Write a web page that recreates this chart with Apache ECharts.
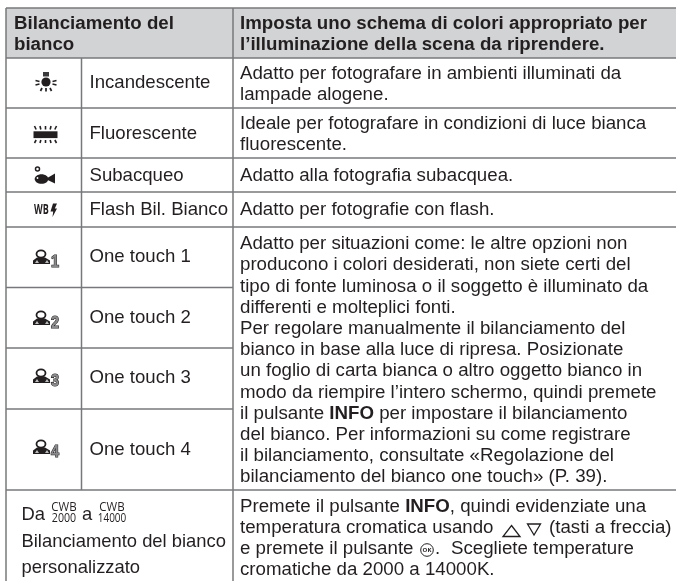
<!DOCTYPE html>
<html>
<head>
<meta charset="utf-8">
<title>Bilanciamento del bianco</title>
<style>
  html, body { margin: 0; padding: 0; background: #fff; }
  #main { width: 676px; height: 581px; }
</style>
<script src="https://cdn.jsdelivr.net/npm/echarts@6/dist/echarts.min.js"></script>
</head>
<body>
<div id="main"></div>
<script>
// table content
const headerLeft = ["Bilanciamento del", "bianco"];
const headerRight = [
  "Imposta uno schema di colori appropriato per",
  "l’illuminazione della scena da riprendere."
];
const modeNames = [
  "Incandescente", "Fluorescente", "Subacqueo", "Flash Bil. Bianco",
  "One touch 1", "One touch 2", "One touch 3", "One touch 4"
];
const descIncandescent = [
  "Adatto per fotografare in ambienti illuminati da",
  "lampade alogene."
];
const descFluorescent = [
  "Ideale per fotografare in condizioni di luce bianca",
  "fluorescente."
];
const descUnderwater = ["Adatto alla fotografia subacquea."];
const descFlash = ["Adatto per fotografie con flash."];
const descOneTouch = [
  "Adatto per situazioni come: le altre opzioni non",
  "producono i colori desiderati, non siete certi del",
  "tipo di fonte luminosa o il soggetto è illuminato da",
  "differenti e molteplici fonti.",
  "Per regolare manualmente il bilanciamento del",
  "bianco in base alla luce di ripresa. Posizionate",
  "un foglio di carta bianca o altro oggetto bianco in",
  "modo da riempire l’intero schermo, quindi premete",
  "il pulsante **INFO** per impostare il bilanciamento",
  "del bianco. Per informazioni su come registrare",
  "il bilanciamento, consultate «Regolazione del",
  "bilanciamento del bianco one touch» (P. 39)."
];
const customLeft = ["Bilanciamento del bianco", "personalizzato"];
const cwbTemps = ["2000", "14000"];

// layout
const INK = "#231f20";
const LINE = "#77787b";
const FONT = "Liberation Sans";
const SIZE = 18.7;
const X0 = 6, X1 = 81.5, X2 = 233, XR = 676;
const Y = [8, 58, 108, 158, 192, 227, 287.5, 348, 409, 490, 581];

const g = [];

const rect = (x, y, w, h, fill) => g.push({ type: "rect", shape: { x, y, width: w, height: h }, style: { fill } });
const hline = (x1, x2, y, w = 1.5) => g.push({ type: "line", shape: { x1, y1: y, x2, y2: y }, style: { stroke: LINE, lineWidth: w } });
const vline = (x, y1, y2, w = 1.5) => g.push({ type: "line", shape: { x1: x, y1, x2: x, y2 }, style: { stroke: LINE, lineWidth: w } });
const poly = (points, fill) => g.push({ type: "polygon", shape: { points }, style: { fill } });
const stroke = (x1, y1, x2, y2, w) => g.push({ type: "line", shape: { x1, y1, x2, y2 }, style: { stroke: INK, lineWidth: w } });
const disc = (cx, cy, r, fill, line, w) => g.push({ type: "circle", shape: { cx, cy, r }, style: { fill, stroke: line, lineWidth: w || 0 } });

// one line of text, **x** turns into a bold run
const text = (str, x, y, opts = {}) => {
  const size = opts.size || SIZE;
  g.push({
    type: "text",
    x, y,
    scaleX: opts.scaleX || 1,
    style: {
      text: str.replace(/\*\*(.+?)\*\*/g, "{b|$1}"),
      fill: INK,
      font: (opts.bold ? "bold " : "") + size + "px '" + (opts.family || FONT) + "'",
      verticalAlign: "middle",
      align: opts.align || "left",
      rich: { b: { font: "bold " + size + "px '" + FONT + "'", fill: INK } }
    }
  });
};

// header band and grid lines
rect(X0, Y[0], XR - X0, Y[1] - Y[0], "#d1d3d4");
[Y[0], Y[1], Y[2], Y[3], Y[4], Y[5], Y[9]].forEach((y) => hline(X0, XR, y));
[Y[6], Y[7], Y[8]].forEach((y) => hline(X0, X2, y));
vline(X0, Y[0], Y[10]);
vline(X1, Y[1], Y[9]);
vline(X2, Y[0], Y[10]);

// header
headerLeft.forEach((s, i) => text(s, 14, 23.5 + i * 21, { bold: true }));
headerRight.forEach((s, i) => text(s, 240, 23.5 + i * 21, { bold: true }));

// mode names
const nameY = [83, 133.5, 175.5, 210, 257, 318, 378, 450];
modeNames.forEach((s, i) => text(s, 89.5, nameY[i], { size: 18.6 }));

// descriptions
descIncandescent.forEach((s, i) => text(s, 240, 73.5 + i * 21.2));
descFluorescent.forEach((s, i) => text(s, 240, 123.5 + i * 21.2));
descUnderwater.forEach((s) => text(s, 240, 175.5));
descFlash.forEach((s) => text(s, 240, 210));
descOneTouch.forEach((s, i) => text(s, 240, 244 + i * 21.2));

// last row, left
text("Da", 21.5, 515, { size: 18.4 });
text("a", 82, 515, { size: 18.4 });
const cwb = (x, t) => {
  text("CWB", x, 507.5, { size: 12.5, family: "Open Sans", scaleX: 0.92, align: "center" });
  text(t, x, 518, { size: 12.5, family: "Open Sans", scaleX: t.length > 4 ? 0.8 : 0.85, align: "center" });
};
cwb(64, cwbTemps[0]);
cwb(112, cwbTemps[1]);
customLeft.forEach((s, i) => text(s, 21.5, 541.5 + i * 26.5, { size: 18.4 }));

// last row, right
text("Premete il pulsante **INFO**, quindi evidenziate una", 240, 507);
text("temperatura cromatica usando", 240, 528);
text("(tasti a freccia)", 549, 528);
text("e premete il pulsante", 240, 549);
text(".", 435, 549);
text("Scegliete temperature", 451, 549);
text("cromatiche da 2000 a 14000K.", 240, 570);
g.push({ type: "polygon", shape: { points: [[511.5, 525.5], [520, 536.5], [503, 536.5]] }, style: { fill: "none", stroke: INK, lineWidth: 1.3 } });
g.push({ type: "polygon", shape: { points: [[534, 535], [527.5, 524], [540.5, 524]] }, style: { fill: "none", stroke: INK, lineWidth: 1.3 } });
disc(427, 550, 6.3, "#fff", INK, 1);
text("OK", 427, 550.5, { size: 6, family: "Open Sans", bold: true, align: "center" });

// icons
const lampIcon = (cx, cy) => {
  rect(cx - 3, cy - 10, 6, 4.5, "#3a3a3c");
  disc(cx, cy, 4.6, INK);
  [[-10.5, -1.5, -6.5, -0.5], [-10.5, 3, -6.5, 2], [10.5, -1.5, 6.5, -0.5], [10.5, 3, 6.5, 2],
   [-5.5, 9, -4, 6], [0, 9.5, 0, 6], [5.5, 9, 4, 6]].forEach((r) =>
    stroke(cx + r[0], cy + r[1], cx + r[2], cy + r[3], 1.7));
};
const tubeIcon = (cx, cy) => {
  rect(cx - 12, cy - 3.2, 24, 6.8, INK);
  [-11, -5.5, 0, 5.5, 11].forEach((dx) => {
    stroke(cx + dx, cy - 8.5, cx + dx * 0.85, cy - 5, 1.6);
    stroke(cx + dx * 0.85, cy + 5.5, cx + dx, cy + 8.5, 1.6);
  });
};
const fishIcon = (cx, cy) => {
  disc(cx - 8, cy - 7, 2, "none", INK, 1.5);
  g.push({ type: "ellipse", shape: { cx: cx - 4, cy: cy + 3, rx: 6.8, ry: 4.8 }, style: { fill: INK } });
  poly([[cx, cy + 3], [cx + 9.5, cy - 2.5], [cx + 9.5, cy + 7.5]], INK);
  disc(cx - 8, cy + 2, 0.9, "#fff");
};
const flashIcon = (cx, cy) => {
  text("WB", cx - 12, cy, { size: 14.5, bold: true, family: "Open Sans", scaleX: 0.62 });
  poly([[cx + 7, cy - 6.5], [cx + 11, cy - 6.5], [cx + 8.8, cy - 1.5], [cx + 11, cy - 1.5], [cx + 6.5, cy + 7], [cx + 7.2, cy + 1.5], [cx + 4.5, cy + 1.5]], INK);
};
const oneTouchIcon = (cx, cy, n) => {
  g.push({ type: "ellipse", shape: { cx: cx - 5, cy: cy - 4, rx: 4.5, ry: 3.7 }, style: { fill: "#fff", stroke: INK, lineWidth: 1.8 } });
  poly([[cx - 13, cy + 6], [cx - 13, cy + 2.5], [cx - 9, cy - 0.5], [cx - 1, cy - 0.5], [cx + 4, cy + 2.5], [cx + 4, cy + 6]], INK);
  poly([[cx - 11, cy + 5], [cx - 9, cy + 2], [cx - 7, cy + 5]], "#bcbec0");
  poly([[cx - 1, cy + 5], [cx + 1, cy + 2], [cx + 3, cy + 5]], "#bcbec0");
  g.push({
    type: "text", x: cx + 9, y: cy + 5, scaleX: 0.9,
    style: {
      text: String(n), font: "bold 16px '" + FONT + "'", fill: "#8a8a8c",
      stroke: INK, lineWidth: 1.2, align: "center", verticalAlign: "middle"
    }
  });
};

lampIcon(46, 82);
tubeIcon(45.5, 134.5);
fishIcon(45.5, 176);
flashIcon(46, 210);
oneTouchIcon(46, 258, 1);
oneTouchIcon(46, 319, 2);
oneTouchIcon(46, 377, 3);
oneTouchIcon(46, 448, 4);

const chart = echarts.init(document.getElementById("main"));
chart.setOption({ animation: false, backgroundColor: "#fff", graphic: { elements: g } });
</script>
</body>
</html>
